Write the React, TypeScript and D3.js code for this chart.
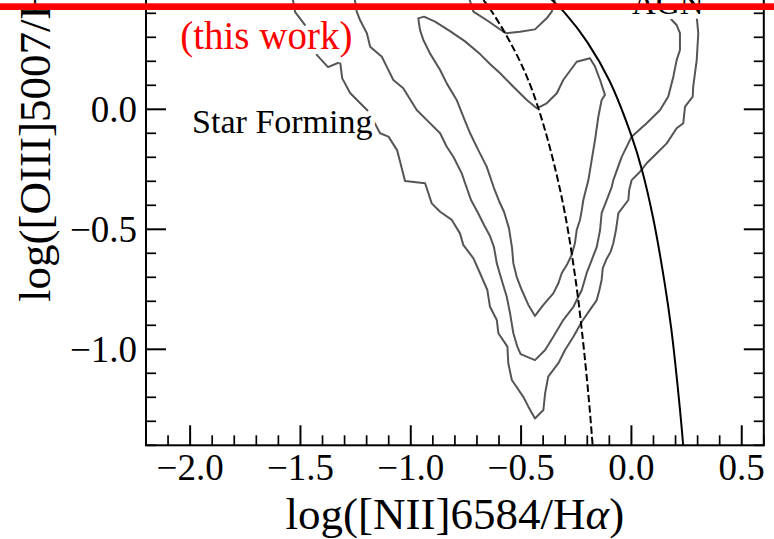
import { useEffect, useRef } from 'react';
import * as d3 from 'd3';

type Pt = [number, number];

// axis settings
const xDomain: [number, number] = [-2.2, 0.6];
const yDomain: [number, number] = [-1.4, 1.2];
const xTickValues = [-2.0, -1.5, -1.0, -0.5, 0.0, 0.5];
const yTickValues = [-1.0, -0.5, 0.0];

// density contours (log NII/Ha, log OIII/Hb)
const contourOuter: Pt[] = [
  [-1.538, 0.476], [-1.524, 0.405], [-1.479, 0.351], [-1.452, 0.289], [-1.425, 0.226],
  [-1.375, 0.176], [-1.320, 0.197], [-1.311, 0.130], [-1.275, 0.068], [-1.230, 0.026],
  [-1.198, -0.003], [-1.166, -0.053], [-1.139, -0.100], [-1.101, -0.114], [-1.062, -0.170],
  [-1.026, -0.299], [-0.935, -0.308], [-0.920, -0.350], [-0.905, -0.392], [-0.867, -0.427],
  [-0.814, -0.461], [-0.777, -0.517], [-0.762, -0.565], [-0.716, -0.621], [-0.686, -0.683],
  [-0.653, -0.753], [-0.641, -0.823], [-0.610, -0.878], [-0.603, -0.933], [-0.562, -0.989],
  [-0.558, -1.058], [-0.542, -1.128], [-0.490, -1.198], [-0.467, -1.239], [-0.437, -1.288],
  [-0.399, -1.253], [-0.391, -1.183], [-0.377, -1.114], [-0.331, -1.058], [-0.301, -1.003],
  [-0.263, -0.948], [-0.225, -0.885], [-0.188, -0.836], [-0.157, -0.795], [-0.145, -0.753],
  [-0.135, -0.711], [-0.130, -0.663], [-0.115, -0.628], [-0.094, -0.593], [-0.082, -0.558],
  [-0.070, -0.503], [-0.059, -0.433], [-0.014, -0.378], [-0.010, -0.336], [0.001, -0.295],
  [0.039, -0.260], [0.069, -0.225], [0.115, -0.183], [0.160, -0.142], [0.205, -0.079],
  [0.235, -0.058], [0.243, 0.011], [0.278, 0.053], [0.280, 0.094], [0.296, 0.205],
  [0.303, 0.317], [0.296, 0.386], [0.284, 0.476],
];

const contourMiddle: Pt[] = [
  [-1.257, 0.476], [-1.245, 0.407], [-1.230, 0.372], [-1.199, 0.317], [-1.184, 0.261],
  [-1.131, 0.219], [-1.109, 0.178], [-1.079, 0.122], [-1.034, 0.088], [-1.011, 0.053],
  [-0.973, -0.003], [-0.927, -0.045], [-0.867, -0.100], [-0.837, -0.156], [-0.807, -0.198],
  [-0.769, -0.267], [-0.754, -0.307], [-0.727, -0.378], [-0.695, -0.432], [-0.668, -0.482],
  [-0.641, -0.528], [-0.623, -0.574], [-0.610, -0.642], [-0.588, -0.711], [-0.565, -0.781],
  [-0.550, -0.850], [-0.535, -0.933], [-0.517, -0.989], [-0.502, -1.020], [-0.437, -1.045],
  [-0.391, -1.003], [-0.354, -0.948], [-0.309, -0.878], [-0.263, -0.823], [-0.225, -0.753],
  [-0.203, -0.683], [-0.180, -0.628], [-0.157, -0.573], [-0.142, -0.503], [-0.135, -0.433],
  [-0.112, -0.378], [-0.089, -0.323], [-0.082, -0.295], [-0.044, -0.198], [0.001, -0.114],
  [0.069, -0.058], [0.130, -0.003], [0.167, 0.053], [0.190, 0.136], [0.205, 0.205],
  [0.220, 0.247], [0.220, 0.317], [0.205, 0.351], [0.183, 0.372], [0.139, 0.435],
  [0.107, 0.476],
];

const contourMiddleTop: Pt[] = [
  [-0.740, 0.476], [-0.716, 0.407], [-0.650, 0.368], [-0.580, 0.323], [-0.565, 0.317],
  [-0.505, 0.323], [-0.437, 0.333], [-0.384, 0.379], [-0.361, 0.407], [-0.342, 0.476],
];

const contourInner: Pt[] = [
  [-0.966, 0.379], [-0.940, 0.386], [-0.890, 0.365], [-0.822, 0.326], [-0.754, 0.283],
  [-0.686, 0.230], [-0.641, 0.189], [-0.595, 0.150], [-0.535, 0.094], [-0.474, 0.039],
  [-0.429, 0.004], [-0.384, 0.025], [-0.338, 0.067], [-0.309, 0.122], [-0.248, 0.198],
  [-0.188, 0.213], [-0.165, 0.178], [-0.142, 0.122], [-0.120, 0.060], [-0.135, 0.039],
  [-0.150, -0.031], [-0.165, -0.128], [-0.180, -0.211], [-0.195, -0.295], [-0.210, -0.349],
  [-0.218, -0.378], [-0.225, -0.420], [-0.233, -0.461], [-0.248, -0.503], [-0.256, -0.558],
  [-0.271, -0.607], [-0.293, -0.649], [-0.316, -0.683], [-0.331, -0.725], [-0.354, -0.767],
  [-0.399, -0.815], [-0.437, -0.861], [-0.467, -0.815], [-0.497, -0.753], [-0.520, -0.698],
  [-0.535, -0.642], [-0.541, -0.578], [-0.555, -0.495], [-0.577, -0.428], [-0.600, -0.382],
  [-0.623, -0.328], [-0.656, -0.239], [-0.694, -0.170], [-0.731, -0.100], [-0.762, -0.031],
  [-0.792, 0.039], [-0.837, 0.108], [-0.867, 0.164], [-0.913, 0.233], [-0.943, 0.289],
  [-0.958, 0.330],
];

// demarcation curves
const kauffmannLine: Pt[] = [
  [-0.70, 0.49], [-0.65, 0.43], [-0.60, 0.36], [-0.55, 0.28], [-0.50, 0.19],
  [-0.45, 0.08], [-0.40, -0.06], [-0.35, -0.23], [-0.30, -0.44], [-0.25, -0.73],
  [-0.22, -0.96], [-0.20, -1.14], [-0.19, -1.24], [-0.18, -1.35], [-0.17, -1.47],
];
const kewleyLine: Pt[] = [
  [-0.40, 0.49], [-0.30, 0.40], [-0.20, 0.28], [-0.10, 0.12], [0.00, -0.11],
  [0.05, -0.26], [0.10, -0.46], [0.15, -0.72], [0.18, -0.91], [0.20, -1.07],
  [0.22, -1.25], [0.23, -1.35], [0.24, -1.46],
];

// annotations
const labelText = ['(this work)', 'Star Forming', 'AGN'];
const labelPos: Pt[] = [[-2.045, 0.253], [-1.991, -0.099], [0.003, 0.399]];
const labelColor = ['#ff0000', '#000000', '#000000'];
const labelSize = [39, 34, 33];

export default function App() {
  const svgRef = useRef<SVGSVGElement>(null);

  useEffect(() => {
    if (!svgRef.current) return;
    const width = 774;
    const height = 539;
    const left = 146;
    const right = 763.8;
    const bottom = 445.3;
    const pxPerY = 240;
    const font = '"Liberation Serif", "Times New Roman", serif';

    const svg = d3.select(svgRef.current);
    svg.selectAll('*').remove();
    svg.attr('width', width).attr('height', height).attr('viewBox', `0 0 ${width} ${height}`);

    const x = d3.scaleLinear().domain(xDomain).range([left, right]);
    const y = d3
      .scaleLinear()
      .domain(yDomain)
      .range([bottom, bottom - (yDomain[1] - yDomain[0]) * pxPerY]);
    const top = y(yDomain[1]);

    svg.append('rect').attr('width', width).attr('height', height).attr('fill', 'white');

    svg
      .append('defs')
      .append('clipPath')
      .attr('id', 'plot-clip')
      .append('rect')
      .attr('x', left)
      .attr('y', top)
      .attr('width', right - left)
      .attr('height', bottom - top);

    const plot = svg.append('g').attr('clip-path', 'url(#plot-clip)');

    const line = d3
      .line<Pt>()
      .x(d => x(d[0]))
      .y(d => y(d[1]));

    // contours
    [contourOuter, contourMiddle, contourMiddleTop].forEach(c => {
      plot
        .append('path')
        .attr('d', line(c))
        .attr('fill', 'none')
        .attr('stroke', '#555555')
        .attr('stroke-width', 2)
        .attr('stroke-linejoin', 'round');
    });
    plot
      .append('path')
      .attr('d', line.curve(d3.curveLinearClosed)(contourInner))
      .attr('fill', 'none')
      .attr('stroke', '#555555')
      .attr('stroke-width', 2)
      .attr('stroke-linejoin', 'round');

    const smooth = d3
      .line<Pt>()
      .x(d => x(d[0]))
      .y(d => y(d[1]))
      .curve(d3.curveCatmullRom.alpha(0.5));

    plot
      .append('path')
      .attr('d', smooth(kauffmannLine))
      .attr('fill', 'none')
      .attr('stroke', 'black')
      .attr('stroke-width', 2)
      .attr('stroke-dasharray', '7.4 3.2');

    plot
      .append('path')
      .attr('d', smooth(kewleyLine))
      .attr('fill', 'none')
      .attr('stroke', 'black')
      .attr('stroke-width', 2);

    // annotations with white halo
    labelText.forEach((t, i) => {
      plot
        .append('text')
        .attr('x', x(labelPos[i][0]))
        .attr('y', y(labelPos[i][1]))
        .attr('font-family', font)
        .attr('font-size', labelSize[i])
        .attr('fill', labelColor[i])
        .attr('stroke', 'white')
        .attr('stroke-width', 10)
        .attr('stroke-linejoin', 'round')
        .attr('paint-order', 'stroke')
        .text(t);
    });

    // spines
    const axes = svg.append('g');
    axes
      .append('rect')
      .attr('x', left)
      .attr('y', top)
      .attr('width', right - left)
      .attr('height', bottom - top)
      .attr('fill', 'none')
      .attr('stroke', 'black')
      .attr('stroke-width', 2);

    // ticks, inward on both sides
    const isMajor = (v: number) => Math.abs(v * 2 - Math.round(v * 2)) < 1e-6;
    x.ticks(28).forEach(v => {
      const major = isMajor(v);
      const len = major ? 20 : 10;
      axes
        .append('line')
        .attr('x1', x(v))
        .attr('x2', x(v))
        .attr('y1', bottom)
        .attr('y2', bottom - len)
        .attr('stroke', 'black')
        .attr('stroke-width', major ? 2 : 1.7);
    });
    y.ticks(26).forEach(v => {
      const major = isMajor(v);
      const len = major ? 20 : 10;
      [
        [left, left + len],
        [right, right - len],
      ].forEach(([a, b]) => {
        axes
          .append('line')
          .attr('x1', a)
          .attr('x2', b)
          .attr('y1', y(v))
          .attr('y2', y(v))
          .attr('stroke', 'black')
          .attr('stroke-width', major ? 2 : 1.7);
      });
    });

    const fmt = d3.format('.1f');
    xTickValues.forEach(v => {
      axes
        .append('text')
        .attr('x', x(v))
        .attr('y', 480)
        .attr('text-anchor', 'middle')
        .attr('font-family', font)
        .attr('font-size', 37)
        .text(fmt(v));
    });
    yTickValues.forEach(v => {
      axes
        .append('text')
        .attr('x', left - 9)
        .attr('y', y(v))
        .attr('dy', '0.33em')
        .attr('text-anchor', 'end')
        .attr('font-family', font)
        .attr('font-size', 37)
        .text(fmt(v));
    });

    // axis titles
    const xt = axes
      .append('text')
      .attr('x', (left + right) / 2)
      .attr('y', 529)
      .attr('text-anchor', 'middle')
      .attr('font-family', font)
      .attr('font-size', 45);
    xt.append('tspan').text('log([NII]6584/H');
    xt.append('tspan').attr('font-style', 'italic').text('α');
    xt.append('tspan').text(')');

    const yt = axes
      .append('text')
      .attr('transform', `translate(50,302) rotate(-90)`)
      .attr('text-anchor', 'start')
      .attr('font-family', font)
      .attr('font-size', 45);
    yt.append('tspan').text('log([OIII]5007/H');
    yt.append('tspan').attr('font-style', 'italic').text('β');
    yt.append('tspan').text(')');

    // red rule along the top edge
    svg
      .append('rect')
      .attr('x', 0)
      .attr('y', 3.3)
      .attr('width', width)
      .attr('height', 6.7)
      .attr('fill', '#ff0000');
  }, []);

  return (
    <div style={{ position: 'absolute', left: 0, top: 0, width: 774, height: 539 }}>
      <svg ref={svgRef} style={{ display: 'block' }} />
    </div>
  );
}
